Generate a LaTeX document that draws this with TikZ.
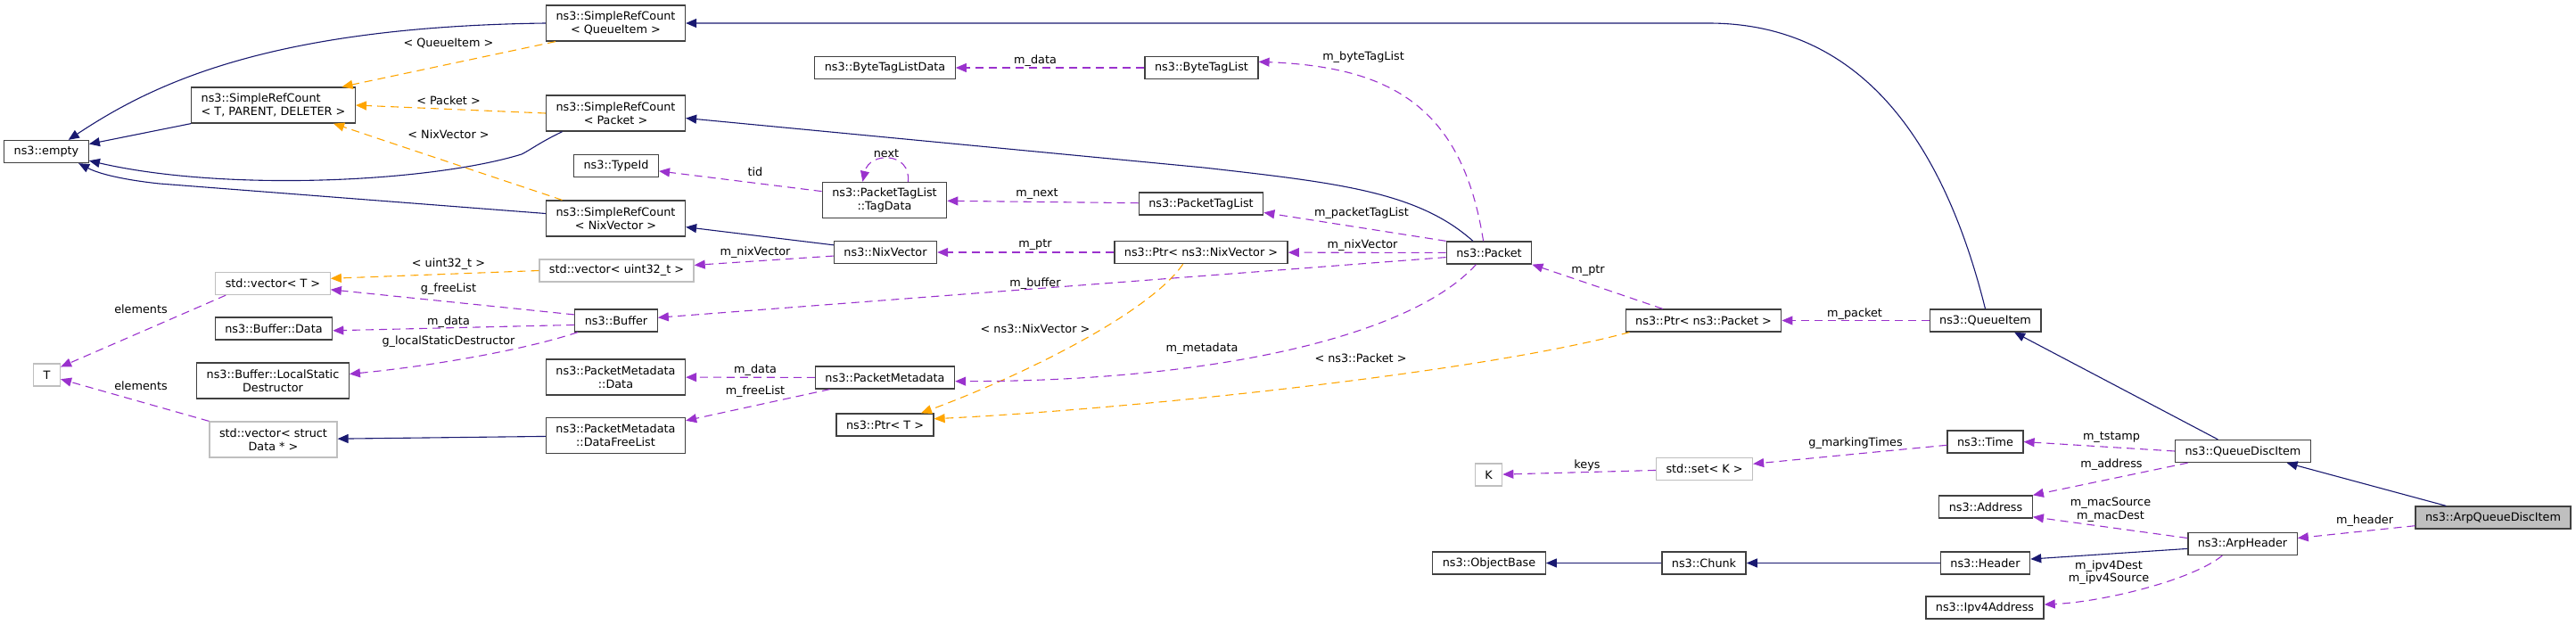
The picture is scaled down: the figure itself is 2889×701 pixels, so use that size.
\documentclass[tikz,border=0pt]{standalone}
\usepackage{fontspec}
\setmainfont{DejaVu Sans}
\usetikzlibrary{arrows.meta}
\definecolor{inhblue}{HTML}{191970}
\definecolor{usepurple}{HTML}{9A32CD}
\definecolor{tplorange}{HTML}{FFA500}
\definecolor{boxgray}{HTML}{BFBFBF}

\begin{document}
\begin{tikzpicture}[x=1pt, y=-1pt,
    font=\fontsize{12.8}{14.7}\selectfont,
    klass/.style={draw=black!75, line width=1.3pt, fill=white, align=center,
                  inner xsep=11pt, inner ysep=2pt, minimum height=25pt},
    twoline/.style={minimum height=40pt},
    extklass/.style={klass, draw=boxgray},
    focusklass/.style={klass, fill=boxgray},
    elabel/.style={inner sep=0pt, align=center},
    tip/.style={-{Triangle[length=12pt,width=10pt]}},
    inherit/.style={tip, draw=inhblue, line width=1.1pt},
    member/.style={tip, draw=usepurple, line width=1.1pt, dash pattern=on 9pt off 6pt},
    tmpl/.style={tip, draw=tplorange, line width=1.1pt, dash pattern=on 9pt off 6pt}]

  \useasboundingbox (0,0) rectangle (2889,701);

  % classes, column by column
  \node[klass] (empty) at (52,170) {ns3::empty};
  \node[extklass] (t) at (52.5,420.5) {T};

  \node[klass, twoline, align=left] (srct) at (306.5,118) {ns3::SimpleRefCount\\< T, PARENT, DELETER >};
  \node[extklass] (vect) at (306,318) {std::vector< T >};
  \node[klass] (bufdata) at (307,368.5) {ns3::Buffer::Data};
  \node[klass, twoline] (lsd) at (306,427) {ns3::Buffer::LocalStatic\\Destructor};
  \node[extklass, twoline] (vecd) at (306.5,493) {std::vector< struct\\Data * >};

  \node[klass, twoline] (srcq) at (690.5,26) {ns3::SimpleRefCount\\< QueueItem >};
  \node[klass, twoline] (srcp) at (690.5,127) {ns3::SimpleRefCount\\< Packet >};
  \node[klass] (typeid) at (691,186) {ns3::TypeId};
  \node[klass, twoline] (srcn) at (690.5,245) {ns3::SimpleRefCount\\< NixVector >};
  \node[extklass] (vecu) at (691.5,303.5) {std::vector< uint32\_t >};
  \node[klass] (buffer) at (691,359.5) {ns3::Buffer};
  \node[klass, twoline] (pmdata) at (690.5,423) {ns3::PacketMetadata\\::Data};
  \node[klass, twoline] (pmfree) at (690.5,488.5) {ns3::PacketMetadata\\::DataFreeList};

  \node[klass] (btld) at (992.5,76) {ns3::ByteTagListData};
  \node[klass, twoline] (tagdata) at (992,224.5) {ns3::PacketTagList\\::TagData};
  \node[klass] (nix) at (993,283) {ns3::NixVector};
  \node[klass] (pmeta) at (992.5,423.5) {ns3::PacketMetadata};
  \node[klass] (ptrt) at (992.5,476.5) {ns3::Ptr< T >};

  \node[klass] (btl) at (1347.5,76) {ns3::ByteTagList};
  \node[klass] (ptl) at (1347,228.5) {ns3::PacketTagList};
  \node[klass] (ptrn) at (1347,283) {ns3::Ptr< ns3::NixVector >};

  \node[klass] (packet) at (1670,283.5) {ns3::Packet};
  \node[extklass] (k) at (1669.5,532.5) {K};
  \node[klass] (objbase) at (1670,631.5) {ns3::ObjectBase};

  \node[klass] (ptrp) at (1910.5,359.5) {ns3::Ptr< ns3::Packet >};
  \node[extklass] (setk) at (1911.5,526) {std::set< K >};
  \node[klass] (chunk) at (1911,631.5) {ns3::Chunk};

  \node[klass] (qitem) at (2226.5,359.5) {ns3::QueueItem};
  \node[klass] (time) at (2226.5,495.5) {ns3::Time};
  \node[klass] (address) at (2227,568.5) {ns3::Address};
  \node[klass] (header) at (2226.5,631.5) {ns3::Header};
  \node[klass] (ipv4) at (2226,681.5) {ns3::Ipv4Address};

  \node[klass] (qdi) at (2515.5,506) {ns3::QueueDiscItem};
  \node[klass] (arph) at (2515,610) {ns3::ArpHeader};
  \node[focusklass] (arpq) at (2796,580.5) {ns3::ArpQueueDiscItem};

  % inheritance
  \foreach \i/\j in {srct.south west/empty.10, nix.172/srcn.-7, qdi.155/qitem.-22,
                     arpq.166/qdi.-15, arph.185/header.5, header/chunk,
                     chunk/objbase, pmfree/vecd}
    \draw[inherit] (\i) -- (\j);
  \draw[inherit] (srcq.west) .. controls (300,30) and (170,95) .. (empty.28);
  \draw[inherit] (srcp.199) .. controls (605,160) and (595,168) .. (585,173)
    .. controls (480,205) and (250,215) .. (empty.-12);
  \draw[inherit] (srcn.176) -- (179,206) .. controls (150,203) and (115,197) .. (empty.-20);
  \draw[inherit] (qitem.north) .. controls (2170,120) and (2060,26) .. (1916,26) -- (srcq.east);
  \draw[inherit] (packet.144) .. controls (1590,215) and (1500,205) .. (1350,188) -- (srcp.-4);

  % template instances
  \foreach \i/\j in {srcq.197/srct.15, srcp.west/srct.east, srcn.161/srct.-17,
                     vecu.west/vect.5}
    \draw[tmpl] (\i) -- (\j);
  \draw[tmpl] (ptrn.213) .. controls (1290,350) and (1150,420) .. (ptrt.18);
  \draw[tmpl] (ptrp.189) .. controls (1650,420) and (1250,460) .. (ptrt.7);

  % members
  \foreach \i/\j in {btl/btld, tagdata.172/typeid.-7, ptl/tagdata,
                     packet.north west/ptl.-8, ptrn/nix, packet/ptrn,
                     nix.184/vecu.4, packet.186/buffer.4, buffer.172/vect.-6,
                     buffer.186/bufdata.-2, vect.194/t.30, vecd.north west/t.-17,
                     pmeta/pmdata, pmeta.192/pmfree.12, ptrp.164/packet.south east,
                     qitem/ptrp, setk/k, time.185/setk.6, qdi.west/time.east,
                     qdi.192/address.north east, arph.174/address.-12, arpq.186/arph.6}
    \draw[member] (\i) -- (\j);
  \draw[member] (packet.116) .. controls (1640,120) and (1560,75) .. (btl.6);
  \draw[member] (tagdata.38) .. controls (1022,170) and (975,170) .. (tagdata.140);
  \draw[member] (buffer.197) .. controls (580,395) and (470,412) .. (lsd.5);
  \draw[member] (packet.222) .. controls (1580,380) and (1350,428) .. (pmeta.-3);
  \draw[member] (arph.210) .. controls (2460,650) and (2360,675) .. (ipv4.3);

  % edge labels
  \node[elabel] (lqi) at (503,49) {< QueueItem >};
  \node[elabel] (lpk) at (503,113) {< Packet >};
  \node[elabel] (lnv) at (503,151) {< NixVector >};
  \node[elabel] (lu32) at (503,296) {< uint32\_t >};
  \node[elabel] (lfree) at (503,324) {g\_freeList};
  \node[elabel] (lbdata) at (503,361) {m\_data};
  \node[elabel] (llsd) at (503,383) {g\_localStaticDestructor};
  \node[elabel] (lel1) at (158,347) {elements};
  \node[elabel] (lel2) at (158,433) {elements};
  \node[elabel] (lmdata) at (847,415) {m\_data};
  \node[elabel] (lmfree) at (847,439) {m\_freeList};
  \node[elabel] (ltid) at (847,193) {tid};
  \node[elabel] (lnext) at (994,172) {next};
  \node[elabel] (lnix1) at (847,283) {m\_nixVector};
  \node[elabel] (lbtd) at (1161,68) {m\_data};
  \node[elabel] (lmnext) at (1163,218) {m\_next};
  \node[elabel] (lptr1) at (1161,275) {m\_ptr};
  \node[elabel] (lbuf) at (1161,318) {m\_buffer};
  \node[elabel] (lnsnv) at (1161,369) {< ns3::NixVector >};
  \node[elabel] (lmeta) at (1348,391) {m\_metadata};
  \node[elabel] (lnspk) at (1526,402) {< ns3::Packet >};
  \node[elabel] (lbtl) at (1529,64) {m\_byteTagList};
  \node[elabel] (lptl) at (1527,239) {m\_packetTagList};
  \node[elabel] (lnix2) at (1528,275) {m\_nixVector};
  \node[elabel] (lptr2) at (1781,304) {m\_ptr};
  \node[elabel] (lpkt) at (2080,352) {m\_packet};
  \node[elabel] (lkeys) at (1780,522) {keys};
  \node[elabel] (lmark) at (2081,497) {g\_markingTimes};
  \node[elabel] (lts) at (2368,491) {m\_tstamp};
  \node[elabel] (laddr) at (2368,521) {m\_address};
  \node[elabel] (lmac) at (2367,572) {m\_macSource\\m\_macDest};
  \node[elabel] (lip) at (2365,642) {m\_ipv4Dest\\m\_ipv4Source};
  \node[elabel] (lhdr) at (2652,584) {m\_header};
\end{tikzpicture}
\end{document}
